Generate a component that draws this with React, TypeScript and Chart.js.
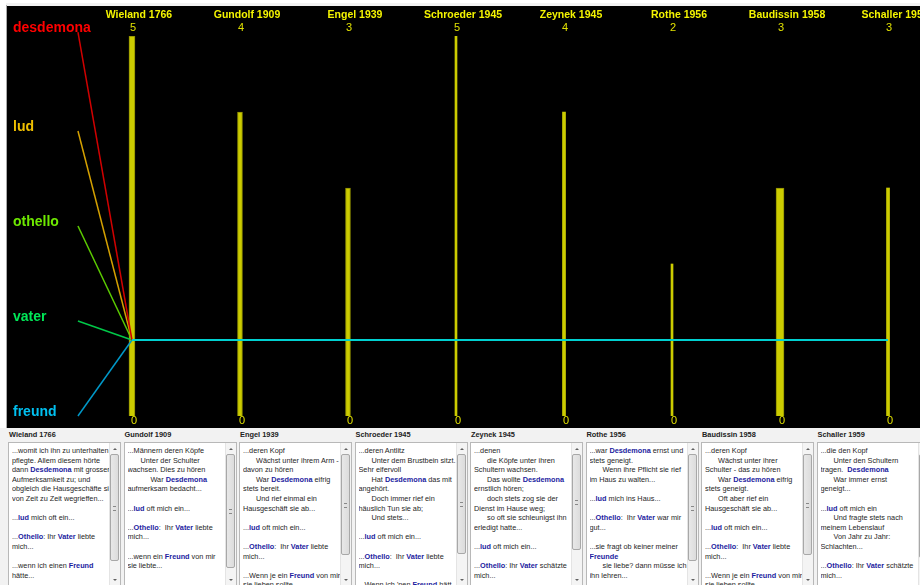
import React, { useEffect, useRef } from "react";
import { Chart, registerables } from "chart.js";

Chart.register(...registerables);

// ---------- data ----------
const VERSIONS = [
  "Wieland 1766",
  "Gundolf 1909",
  "Engel 1939",
  "Schroeder 1945",
  "Zeynek 1945",
  "Rothe 1956",
  "Baudissin 1958",
  "Schaller 1959",
];
const COUNTS = [5, 4, 3, 5, 4, 2, 3, 3];
const ZERO_LABELS = [0, 0, 0, 0, 0, 0, 0, 0];
const WORDS = ["desdemona", "lud", "othello", "vater", "freund"];
const WORD_LEVELS = [5.05, 3.75, 2.5, 1.25, 0];
const WORD_ANCHOR_X = -0.5;
const JOIN_VERSION = 0;
const JOIN_LEVEL = 1;
const SELECTION_LEVELS = [1, 1, 1, 1, 1, 1, 1, 1];

// ---------- styles ----------
const BAR_THICKNESS = [6, 5, 5, 2, 3, 2, 8, 3];
const WORD_COLORS = ["#ff0000", "#f0c000", "#6ee800", "#00e858", "#00c0f0"];
const WORD_LINE_COLORS = ["#d00000", "#d4a000", "#5ccc00", "#00c848", "#0098c8"];

const PANELS: { title: string; lines: string[]; thumb: number }[] = [
  {
    title: "Wieland 1766",
    thumb: 107,
    lines: [
      "...womit ich ihn zu unterhalten",
      "pflegte. Allem diesem hörte",
      "dann *Desdemona* mit grosser",
      "Aufmerksamkeit zu; und",
      "obgleich die Hausgeschäfte sie",
      "von Zeit zu Zeit wegrieffen...",
      "",
      "...*lud* mich oft ein...",
      "",
      "...*Othello*: Ihr *Vater* liebte",
      "mich...",
      "",
      "...wenn ich einen *Freund*",
      "hätte...",
    ],
  },
  {
    title: "Gundolf 1909",
    thumb: 114,
    lines: [
      "...Männern deren Köpfe",
      "\tUnter der Schulter",
      "wachsen. Dies zu hören",
      "\t\tWar *Desdemona*",
      "aufmerksam bedacht...",
      "",
      "...*lud* oft mich ein...",
      "",
      "...*Othello*:  Ihr *Vater* liebte",
      "mich...",
      "",
      "...wenn ein *Freund* von mir",
      "sie liebte...",
    ],
  },
  {
    title: "Engel 1939",
    thumb: 101,
    lines: [
      "...deren Kopf",
      "\tWächst unter ihrem Arm -",
      "davon zu hören",
      "\tWar *Desdemona* eifrig",
      "stets bereit.",
      "\tUnd rief einmal ein",
      "Hausgeschäft sie ab...",
      "",
      "...*lud* oft mich ein...",
      "",
      "...*Othello*:  Ihr *Vater* liebte",
      "mich...",
      "",
      "...Wenn je ein *Freund* von mir",
      "sie lieben sollte...",
    ],
  },
  {
    title: "Schroeder 1945",
    thumb: 100,
    lines: [
      "...deren Antlitz",
      "\tUnter dem Brustbein sitzt.",
      "Sehr eifervoll",
      "\tHat *Desdemona* das mit",
      "angehört.",
      "\tDoch immer rief ein",
      "häuslich Tun sie ab;",
      "\tUnd stets...",
      "",
      "...*lud* oft mich ein...",
      "",
      "...*Othello*:  Ihr *Vater* liebte",
      "mich...",
      "",
      "...Wenn ich 'nen *Freund* hätt",
    ],
  },
  {
    title: "Zeynek 1945",
    thumb: 96,
    lines: [
      "...denen",
      "\tdie Köpfe unter ihren",
      "Schultern wachsen.",
      "\tDas wollte *Desdemona*",
      "ernstlich hören;",
      "\tdoch stets zog sie der",
      "Dienst im Hause weg;",
      "\tso oft sie schleunigst ihn",
      "erledigt hatte...",
      "",
      "...*lud* oft mich ein...",
      "",
      "...*Othello*: Ihr *Vater* schätzte",
      "mich...",
    ],
  },
  {
    title: "Rothe 1956",
    thumb: 107,
    lines: [
      "...war *Desdemona* ernst und",
      "stets geneigt.",
      "\tWenn ihre Pflicht sie rief",
      "im Haus zu walten...",
      "",
      "...*lud* mich ins Haus...",
      "",
      "...*Othello*:  Ihr *Vater* war mir",
      "gut...",
      "",
      "...sie fragt ob keiner meiner",
      "*Freunde*",
      "\tsie liebe? dann müsse ich",
      "ihn lehren...",
    ],
  },
  {
    title: "Baudissin 1958",
    thumb: 101,
    lines: [
      "...deren Kopf",
      "\tWächst unter ihrer",
      "Schulter - das zu hören",
      "\tWar *Desdemona* eifrig",
      "stets geneigt.",
      "\tOft aber rief ein",
      "Hausgeschäft sie ab...",
      "",
      "...*lud* oft mich ein...",
      "",
      "...*Othello*:  Ihr *Vater* liebte",
      "mich...",
      "",
      "...Wenn je ein *Freund* von mir",
      "sie lieben sollte...",
    ],
  },
  {
    title: "Schaller 1959",
    thumb: 104,
    lines: [
      "...die den Kopf",
      "\tUnter den Schultern",
      "tragen.  *Desdemona*",
      "\tWar immer ernst",
      "geneigt...",
      "",
      "...*lud* oft mich ein",
      "\tUnd fragte stets nach",
      "meinem Lebenslauf",
      "\tVon Jahr zu Jahr:",
      "Schlachten...",
      "",
      "...*Othello*: Ihr *Vater* schätzte",
      "mich...",
    ],
  },
];

const FONT = '"Liberation Sans", Arial, sans-serif';

const textPlugin = {
  id: "versionTexts",
  afterDatasetsDraw(chart: any) {
    const { ctx, chartArea } = chart;
    const x = chart.scales.x;
    const y = chart.scales.y;
    ctx.save();
    ctx.textAlign = "center";
    ctx.textBaseline = "middle";
    VERSIONS.forEach((v, i) => {
      const px = x.getPixelForValue(i);
      ctx.font = `bold 10.5px ${FONT}`;
      ctx.fillStyle = "#f4f400";
      ctx.fillText(v, px + 7, chartArea.top - 21);
      ctx.font = `11px ${FONT}`;
      ctx.fillStyle = "#e0e000";
      ctx.fillText(String(COUNTS[i]), px + 1, chartArea.top - 8);
      ctx.fillText(String(ZERO_LABELS[i]), px + 2, y.getPixelForValue(ZERO_LABELS[i]) + 5);
    });
    ctx.textAlign = "left";
    ctx.font = `bold 14px ${FONT}`;
    WORDS.forEach((w, i) => {
      ctx.fillStyle = WORD_COLORS[i];
      ctx.fillText(w, chartArea.left + 6, y.getPixelForValue(WORD_LEVELS[i]) - 4);
    });
    ctx.restore();
  },
};

function renderLine(line: string, key: number) {
  let indent = 0;
  let s = line;
  while (s.startsWith("\t")) {
    indent += 1;
    s = s.slice(1);
  }
  const parts = s.split(/(\*[^*]+\*)/).filter((p) => p.length > 0);
  return (
    <div
      key={key}
      style={{
        whiteSpace: "pre",
        height: 9.6,
        lineHeight: "9.6px",
        paddingLeft: indent === 0 ? 0 : indent === 1 ? 13 : 23,
      }}
    >
      {parts.length === 0
        ? "\u00a0"
        : parts.map((p, j) =>
            p.startsWith("*") ? (
              <b key={j} style={{ color: "#1c1ca0" }}>
                {p.slice(1, -1)}
              </b>
            ) : (
              <span key={j}>{p}</span>
            )
          )}
    </div>
  );
}

function Panel({ p, left }: { p: (typeof PANELS)[number]; left: number }) {
  return (
    <>
      <div
        style={{
          position: "absolute",
          left: left + 1,
          top: 430,
          font: `bold 7.4px ${FONT}`,
          lineHeight: "10px",
          color: "#222",
          whiteSpace: "nowrap",
        }}
      >
        {p.title}
      </div>
      <div
        style={{
          position: "absolute",
          left,
          top: 442,
          width: 113,
          height: 145,
          boxSizing: "border-box",
          background: "#fff",
          border: "1px solid #b8b8b8",
          overflow: "hidden",
        }}
      >
        <div
          style={{
            position: "absolute",
            left: 3,
            top: 3,
            width: 99,
            overflow: "hidden",
            font: `7.3px ${FONT}`,
            color: "#262626",
          }}
        >
          {p.lines.map((l, k) => renderLine(l, k))}
        </div>
        <div
          style={{
            position: "absolute",
            right: 0,
            top: 0,
            width: 10,
            height: "100%",
            background: "#f4f4f4",
            borderLeft: "1px solid #e4e4e4",
          }}
        >
          <div
            style={{
              position: "absolute",
              left: 3,
              top: 5,
              width: 0,
              height: 0,
              borderLeft: "2px solid transparent",
              borderRight: "2px solid transparent",
              borderBottom: "2px solid #606060",
            }}
          />
          <div
            style={{
              position: "absolute",
              left: 0,
              top: 11,
              width: 9,
              height: p.thumb,
              boxSizing: "border-box",
              background: "linear-gradient(90deg,#e8e8e8,#dcdcdc)",
              border: "1px solid #a8a8a8",
              borderRadius: 2,
            }}
          >
            <div
              style={{
                position: "absolute",
                left: 2,
                top: p.thumb / 2 - 3,
                width: 3,
                height: 3,
                borderTop: "1px solid #888",
                borderBottom: "1px solid #888",
              }}
            />
          </div>
          <div
            style={{
              position: "absolute",
              left: 3,
              top: 136,
              width: 0,
              height: 0,
              borderLeft: "2px solid transparent",
              borderRight: "2px solid transparent",
              borderTop: "2px solid #606060",
            }}
          />
        </div>
      </div>
    </>
  );
}

export default function App() {
  const canvasRef = useRef<HTMLCanvasElement | null>(null);

  useEffect(() => {
    const canvas = canvasRef.current;
    if (!canvas) return;

    const barDatasets = VERSIONS.map((v, i) => ({
      type: "bar" as const,
      label: v,
      data: [{ x: i, y: COUNTS[i] }],
      barThickness: BAR_THICKNESS[i],
      backgroundColor: "#cccc00",
      borderColor: "#8c8c00",
      borderWidth: BAR_THICKNESS[i] >= 5 ? 1 : 0,
      grouped: false,
      order: 2,
    }));

    const wordDatasets = WORDS.map((w, i) => ({
      type: "line" as const,
      label: w,
      data: [
        { x: WORD_ANCHOR_X, y: WORD_LEVELS[i] },
        { x: JOIN_VERSION, y: JOIN_LEVEL },
      ],
      borderColor: WORD_LINE_COLORS[i],
      borderWidth: 1.5,
      pointRadius: 0,
      fill: false,
      clip: false as any,
      order: 1,
    }));

    const selection = {
      type: "line" as const,
      label: "selection",
      data: SELECTION_LEVELS.map((lv, i) => ({ x: i, y: lv })),
      borderColor: "#00d0d0",
      borderWidth: 2.2,
      pointRadius: 0,
      fill: false,
      clip: false as any,
      order: 0,
    };

    const chart = new Chart(canvas, {
      type: "bar",
      data: { datasets: [...barDatasets, ...wordDatasets, selection] as any },
      options: {
        responsive: false,
        animation: false,
        layout: { padding: { top: 30, bottom: 12, left: 0, right: 0 } },
        plugins: {
          legend: { display: false },
          tooltip: { enabled: false },
        },
        scales: {
          x: {
            type: "linear",
            min: -1.157,
            max: 7.296,
            offset: false,
            display: false,
          },
          y: { type: "linear", min: 0, max: 5, display: false },
        },
      },
      plugins: [textPlugin],
    });
    return () => chart.destroy();
  }, []);

  return (
    <div
      style={{
        position: "fixed",
        left: 0,
        top: 0,
        width: 920,
        height: 585,
        overflow: "hidden",
        background: "#f2f2f2",
        fontFamily: FONT,
      }}
    >
      <div style={{ position: "absolute", left: 0, top: 0, width: 920, height: 3, background: "#fff" }} />
      <div style={{ position: "absolute", left: 0, top: 0, width: 6, height: 428, background: "#fff" }} />
      <div style={{ position: "absolute", left: 6, top: 5, width: 1, height: 423, background: "#a8a8a8" }} />
      <canvas
        ref={canvasRef}
        width={913}
        height={422}
        style={{
          position: "absolute",
          left: 7,
          top: 6,
          width: 913,
          height: 422,
          background: "#000",
        }}
      />
      {PANELS.map((p, i) => (
        <Panel key={p.title} p={p} left={8 + i * 115.5} />
      ))}
    </div>
  );
}
